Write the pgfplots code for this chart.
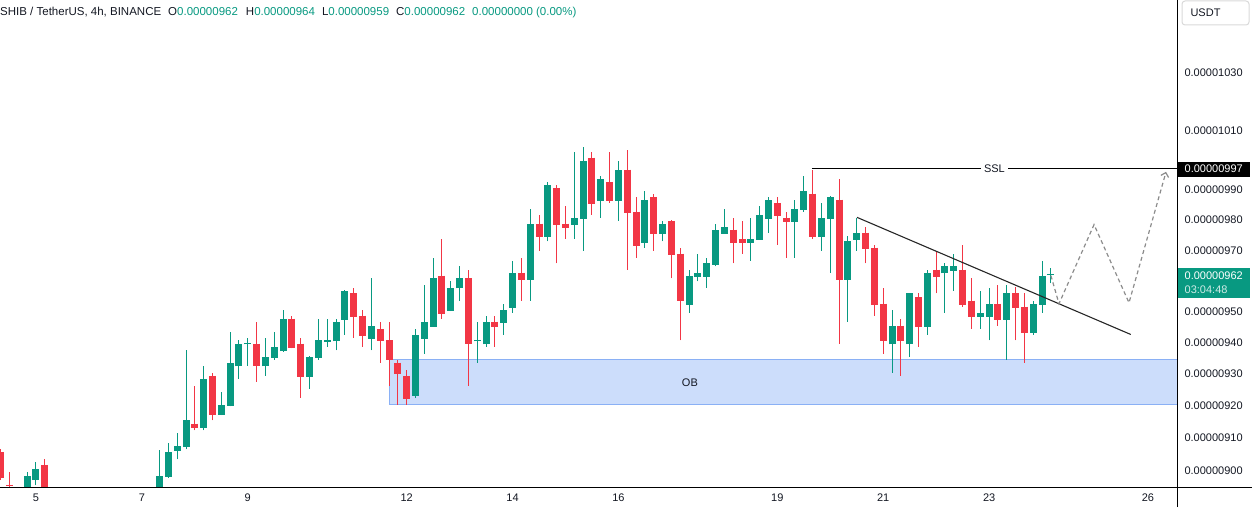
\documentclass[border=0pt]{standalone}
\usepackage{fontspec}
\setmainfont{Liberation Sans}
\usepackage{pgfplots}
\pgfplotsset{compat=1.18}
\usetikzlibrary{arrows.meta}
\definecolor{tvgreen}{HTML}{089981}
\definecolor{tvred}{HTML}{F23645}
\definecolor{tvtext}{HTML}{131722}
\definecolor{obfill}{HTML}{CCDDFB}
\definecolor{obedge}{HTML}{8AB0F5}
\definecolor{dashgray}{HTML}{8C8C8C}
\def\mynan{nan}

\begin{document}
\begin{tikzpicture}
\path[use as bounding box] (0,0) rectangle (1252pt,507pt);
\begin{axis}[
  at={(0pt,19.5pt)}, anchor=south west,
  scale only axis, width=1177pt, height=487.5pt,
  xmin=-4.079, xmax=129.29,
  % logarithmic price scale, done as a coordinate transform
  y coord trafo/.code={\edef\mytmp{#1}\ifx\mytmp\mynan\def\pgfmathresult{nan}\else\pgfmathparse{1000*ln(#1)}\fi},
  ymin=0.8948, ymax=1.0558,
  axis line style={draw=none},
  tick style={draw=none},
  xtick={0,12,24,42,54,66,84,96,108,126},
  xticklabels={5,7,9,12,14,16,19,21,23,26},
  ytick={0.900,0.910,0.920,0.930,0.940,0.950,0.970,0.980,0.990,1.010,1.030},
  yticklabels={0.00000900,0.00000910,0.00000920,0.00000930,0.00000940,0.00000950,0.00000970,0.00000980,0.00000990,0.00001010,0.00001030},
  yticklabel pos=right,
  ticklabel style={font=\fontsize{11}{13}\selectfont, text=tvtext},
  yticklabel style={anchor=west, xshift=4pt},
  xticklabel style={yshift=-3pt},
  unbounded coords=jump,
]
% Order block
\addplot[fill=obfill, draw=obedge, line width=1pt] coordinates {(40.0,0.9203) (129.29,0.9203) (129.29,0.9344) (40.0,0.9344)} -- cycle;
\node[font=\fontsize{11}{13}\selectfont, text=tvtext] at (axis cs:74.1,0.9273) {OB};

% x = 4h candle index (0 = day 5 00:00); y = price in 1e-5 USDT
% green wicks: (i,low)(i,high)
\addplot[tvgreen, line width=1pt] coordinates {
(-1,0.8900)(-1,0.8994)(-1,nan) (0,0.8954)(0,0.9026)(0,nan) (14,0.8900)(14,0.9063)(14,nan)
(15,0.8978)(15,0.9084)(15,nan) (16,0.9034)(16,0.9114)(16,nan) (17,0.9064)(17,0.9374)(17,nan)
(19,0.9123)(19,0.9326)(19,nan) (21,0.9170)(21,0.9244)(21,nan) (22,0.9198)(22,0.9434)(22,nan)
(23,0.9285)(23,0.9406)(23,nan) (24,0.9326)(24,0.9415)(24,nan) (26,0.9294)(26,0.9415)(26,nan)
(27,0.9345)(27,0.9434)(27,nan) (28,0.9370)(28,0.9504)(28,nan) (31,0.9253)(31,0.9356)(31,nan)
(32,0.9345)(32,0.9476)(32,nan) (33,0.9386)(33,0.9476)(33,nan) (34,0.9374)(34,0.9476)(34,nan)
(35,0.9424)(35,0.9568)(35,nan) (38,0.9374)(38,0.9606)(38,nan) (43,0.9225)(43,0.9443)(43,nan)
(44,0.9364)(44,0.9586)(44,nan) (45,0.9449)(45,0.9674)(45,nan) (47,0.9500)(47,0.9596)(47,nan)
(48,0.9534)(48,0.9645)(48,nan) (50,0.9335)(50,0.9466)(50,nan) (51,0.9386)(51,0.9485)(51,nan)
(53,0.9424)(53,0.9524)(53,nan) (54,0.9495)(54,0.9664)(54,nan) (56,0.9534)(56,0.9836)(56,nan)
(58,0.9727)(58,0.9926)(58,nan) (61,0.9736)(61,1.0028)(61,nan) (62,0.9697)(62,1.0045)(62,nan)
(64,0.9806)(64,0.9947)(64,nan) (66,0.9796)(66,0.9997)(66,nan) (69,0.9707)(69,0.9896)(69,nan)
(71,0.9727)(71,0.9796)(71,nan) (74,0.9495)(74,0.9635)(74,nan) (75,0.9596)(75,0.9687)(75,nan)
(76,0.9576)(76,0.9674)(76,nan) (77,0.9645)(77,0.9786)(77,nan) (78,0.9752)(78,0.9836)(78,nan)
(81,0.9664)(81,0.9806)(81,nan) (82,0.9732)(82,0.9846)(82,nan) (83,0.9756)(83,0.9876)(83,nan)
(86,0.9674)(86,0.9866)(86,nan) (87,0.9826)(87,0.9947)(87,nan) (89,0.9697)(89,0.9855)(89,nan)
(90,0.9625)(90,0.9877)(90,nan) (92,0.9466)(92,0.9746)(92,nan) (93,0.9697)(93,0.9806)(93,nan)
(97,0.9304)(97,0.9504)(97,nan) (99,0.9354)(99,0.9559)(99,nan) (101,0.9424)(101,0.9635)(101,nan)
(103,0.9495)(103,0.9655)(103,nan) (104,0.9566)(104,0.9687)(104,nan) (107,0.9443)(107,0.9566)(107,nan)
(108,0.9406)(108,0.9576)(108,nan) (110,0.9345)(110,0.9586)(110,nan) (113,0.9424)(113,0.9534)(113,nan)
(114,0.9495)(114,0.9664)(114,nan) (115,0.9590)(115,0.9640)
};
% green bodies: (i,open)(i,close)
\addplot[tvgreen, line width=7pt] coordinates {
(-1,0.8920)(-1,0.8984)(-1,nan) (0,0.8970)(0,0.9003)(0,nan) (14,0.8920)(14,0.8984)(14,nan)
(15,0.8981)(15,0.9056)(15,nan) (16,0.9061)(16,0.9074)(16,nan) (17,0.9071)(17,0.9154)(17,nan)
(19,0.9132)(19,0.9285)(19,nan) (21,0.9172)(21,0.9203)(21,nan) (22,0.9200)(22,0.9335)(22,nan)
(23,0.9323)(23,0.9396)(23,nan) (24,0.9393)(24,0.9398)(24,nan) (26,0.9323)(26,0.9354)(26,nan)
(27,0.9351)(27,0.9386)(27,nan) (28,0.9371)(28,0.9476)(28,nan) (31,0.9291)(31,0.9354)(31,nan)
(32,0.9351)(32,0.9406)(32,nan) (33,0.9401)(33,0.9406)(33,nan) (34,0.9403)(34,0.9466)(34,nan)
(35,0.9472)(35,0.9566)(35,nan) (38,0.9411)(38,0.9453)(38,nan) (43,0.9231)(43,0.9424)(43,nan)
(44,0.9411)(44,0.9466)(44,nan) (45,0.9450)(45,0.9606)(45,nan) (47,0.9501)(47,0.9576)(47,nan)
(48,0.9573)(48,0.9606)(48,nan) (50,0.9403)(50,0.9408)(50,nan) (51,0.9393)(51,0.9466)(51,nan)
(53,0.9462)(53,0.9504)(53,nan) (54,0.9511)(54,0.9625)(54,nan) (56,0.9602)(56,0.9786)(56,nan)
(58,0.9743)(58,0.9916)(58,nan) (61,0.9783)(61,0.9806)(61,nan) (62,0.9803)(62,0.9997)(62,nan)
(64,0.9862)(64,0.9936)(64,nan) (66,0.9862)(66,0.9967)(66,nan) (69,0.9723)(69,0.9866)(69,nan)
(71,0.9753)(71,0.9786)(71,nan) (74,0.9521)(74,0.9615)(74,nan) (75,0.9612)(75,0.9625)(75,nan)
(76,0.9612)(76,0.9655)(76,nan) (77,0.9651)(77,0.9766)(77,nan) (78,0.9753)(78,0.9776)(78,nan)
(81,0.9723)(81,0.9736)(81,nan) (82,0.9733)(82,0.9816)(82,nan) (83,0.9803)(83,0.9866)(83,nan)
(86,0.9793)(86,0.9836)(86,nan) (87,0.9833)(87,0.9896)(87,nan) (89,0.9743)(89,0.9806)(89,nan)
(90,0.9803)(90,0.9876)(90,nan) (92,0.9602)(92,0.9727)(92,nan) (93,0.9733)(93,0.9756)(93,nan)
(97,0.9393)(97,0.9453)(97,nan) (99,0.9393)(99,0.9557)(99,nan) (101,0.9450)(101,0.9625)(101,nan)
(103,0.9622)(103,0.9645)(103,nan) (104,0.9632)(104,0.9645)(104,nan) (107,0.9482)(107,0.9495)(107,nan)
(108,0.9482)(108,0.9524)(108,nan) (110,0.9472)(110,0.9557)(110,nan) (113,0.9430)(113,0.9524)(113,nan)
(114,0.9521)(114,0.9615)(114,nan) (115,0.9618)(115,0.9621)
};
% red wicks: (i,low)(i,high)
\addplot[tvred, line width=1pt] coordinates {
(-4,0.8970)(-4,0.9065)(-4,nan) (-3,0.8930)(-3,0.8994)(-3,nan) (1,0.8900)(1,0.9035)(1,nan)
(18,0.9123)(18,0.9263)(18,nan) (20,0.9154)(20,0.9304)(20,nan) (25,0.9275)(25,0.9466)(25,nan)
(29,0.9380)(29,0.9485)(29,nan) (30,0.9225)(30,0.9415)(30,nan) (36,0.9415)(36,0.9576)(36,nan)
(37,0.9386)(37,0.9504)(37,nan) (39,0.9335)(39,0.9466)(39,nan) (40,0.9263)(40,0.9466)(40,nan)
(41,0.9203)(41,0.9345)(41,nan) (42,0.9203)(42,0.9313)(42,nan) (46,0.9476)(46,0.9736)(46,nan)
(49,0.9263)(49,0.9635)(49,nan) (52,0.9386)(52,0.9485)(52,nan) (55,0.9534)(55,0.9674)(55,nan)
(57,0.9697)(57,0.9816)(57,nan) (59,0.9655)(59,0.9916)(59,nan) (60,0.9736)(60,0.9846)(60,nan)
(63,0.9816)(63,1.0028)(63,nan) (65,0.9855)(65,1.0028)(65,nan) (67,0.9635)(67,1.0035)(67,nan)
(68,0.9674)(68,0.9876)(68,nan) (70,0.9697)(70,0.9886)(70,nan) (72,0.9606)(72,0.9798)(72,nan)
(73,0.9406)(73,0.9707)(73,nan) (79,0.9655)(79,0.9806)(79,nan) (80,0.9687)(80,0.9796)(80,nan)
(84,0.9717)(84,0.9876)(84,nan) (85,0.9674)(85,0.9826)(85,nan) (88,0.9736)(88,0.9967)(88,nan)
(91,0.9396)(91,0.9936)(91,nan) (94,0.9655)(94,0.9776)(94,nan) (95,0.9485)(95,0.9717)(95,nan)
(96,0.9364)(96,0.9576)(96,nan) (98,0.9294)(98,0.9476)(98,nan) (100,0.9386)(100,0.9557)(100,nan)
(102,0.9557)(102,0.9697)(102,nan) (105,0.9514)(105,0.9717)(105,nan) (106,0.9443)(106,0.9606)(106,nan)
(109,0.9453)(109,0.9586)(109,nan) (111,0.9406)(111,0.9579)(111,nan) (112,0.9335)(112,0.9557)
};
% red bodies: (i,open)(i,close)
\addplot[tvred, line width=7pt] coordinates {
(-4,0.9056)(-4,0.8978)(-4,nan) (-3,0.8956)(-3,0.8952)(-3,nan) (1,0.9017)(1,0.8920)(1,nan)
(18,0.9144)(18,0.9132)(18,nan) (20,0.9294)(20,0.9172)(20,nan) (25,0.9396)(25,0.9323)(25,nan)
(29,0.9476)(29,0.9383)(29,nan) (30,0.9396)(30,0.9291)(30,nan) (36,0.9557)(36,0.9482)(36,nan)
(37,0.9485)(37,0.9421)(37,nan) (39,0.9443)(39,0.9403)(39,nan) (40,0.9406)(40,0.9342)(40,nan)
(41,0.9335)(41,0.9300)(41,nan) (42,0.9294)(42,0.9222)(42,nan) (46,0.9615)(46,0.9492)(46,nan)
(49,0.9606)(49,0.9393)(49,nan) (52,0.9466)(52,0.9450)(52,nan) (55,0.9625)(55,0.9602)(55,nan)
(57,0.9786)(57,0.9743)(57,nan) (59,0.9906)(59,0.9783)(59,nan) (60,0.9786)(60,0.9773)(60,nan)
(63,1.0008)(63,0.9852)(63,nan) (65,0.9926)(65,0.9862)(65,nan) (67,0.9967)(67,0.9823)(67,nan)
(68,0.9826)(68,0.9713)(68,nan) (70,0.9876)(70,0.9753)(70,nan) (72,0.9796)(72,0.9684)(72,nan)
(73,0.9687)(73,0.9531)(73,nan) (79,0.9766)(79,0.9723)(79,nan) (80,0.9736)(80,0.9723)(80,nan)
(84,0.9855)(84,0.9813)(84,nan) (85,0.9806)(85,0.9793)(85,nan) (88,0.9886)(88,0.9743)(88,nan)
(91,0.9866)(91,0.9602)(91,nan) (94,0.9756)(94,0.9703)(94,nan) (95,0.9707)(95,0.9521)(95,nan)
(96,0.9524)(96,0.9403)(96,nan) (98,0.9453)(98,0.9403)(98,nan) (100,0.9545)(100,0.9450)(100,nan)
(102,0.9635)(102,0.9612)(102,nan) (105,0.9635)(105,0.9521)(105,nan) (106,0.9534)(106,0.9482)(106,nan)
(109,0.9524)(109,0.9472)(109,nan) (111,0.9557)(111,0.9511)(111,nan) (112,0.9514)(112,0.9430)
};

% SSL line
\addplot[black, line width=1.1pt] coordinates {(87.93,0.997) (129.29,0.997)};
\node[fill=white, inner xsep=3pt, inner ysep=1pt, font=\fontsize{11}{13}\selectfont, text=tvtext] at (axis cs:108.6,0.997) {SSL};
% trend line
\addplot[black!85, line width=1.1pt] coordinates {(93.03,0.9807) (124.05,0.9425)};
% projected path
\addplot[dashgray, line width=1.2pt, dash pattern=on 4pt off 3pt, -{Straight Barb[length=4pt,width=8pt]}]
  coordinates {(115.0,0.9615) (115.92,0.9524) (119.89,0.9783) (123.85,0.9527) (128.05,0.9960)};

\coordinate (L997) at (axis cs:129.29,0.997);
\coordinate (L962) at (axis cs:129.29,0.9592);
\end{axis}
% frame lines
\draw[black, line width=1pt] (0pt,19.5pt) -- (1252pt,19.5pt);
\draw[black, line width=1pt] (1177pt,0pt) -- (1177pt,507pt);
% price labels
\node[anchor=west, fill=black, text=white, inner xsep=7pt, inner ysep=0pt, minimum height=15pt, font=\fontsize{11}{13}\selectfont] at ([xshift=0.5pt]L997) {0.00000997};
\node[anchor=west, fill=tvgreen, text=white, inner xsep=7pt, inner ysep=2pt, minimum height=30pt, align=left, font=\fontsize{11}{14}\selectfont] at ([xshift=0.5pt]L962) {0.00000962\\\textcolor{white!80!tvgreen}{03:04:48}};
% USDT box
\draw[gray!30, line width=1pt, rounded corners=3pt] (1182pt,482pt) rectangle (1249pt,506pt);
\node[anchor=west, font=\fontsize{11}{13}\selectfont, text=tvtext] at (1187pt,494pt) {USDT};
% header
\node[anchor=west, inner sep=0pt, font=\fontsize{11.5}{13}\selectfont, text=tvtext] at (0pt,494.5pt) {SHIB / TetherUS, 4h, BINANCE\hspace{7pt}O\textcolor{tvgreen}{0.00000962}\hspace{8pt}H\textcolor{tvgreen}{0.00000964}\hspace{7pt}L\textcolor{tvgreen}{0.00000959}\hspace{7pt}C\textcolor{tvgreen}{0.00000962}\hspace{7pt}\textcolor{tvgreen}{0.00000000 (0.00\%)}};
\end{tikzpicture}
\end{document}
